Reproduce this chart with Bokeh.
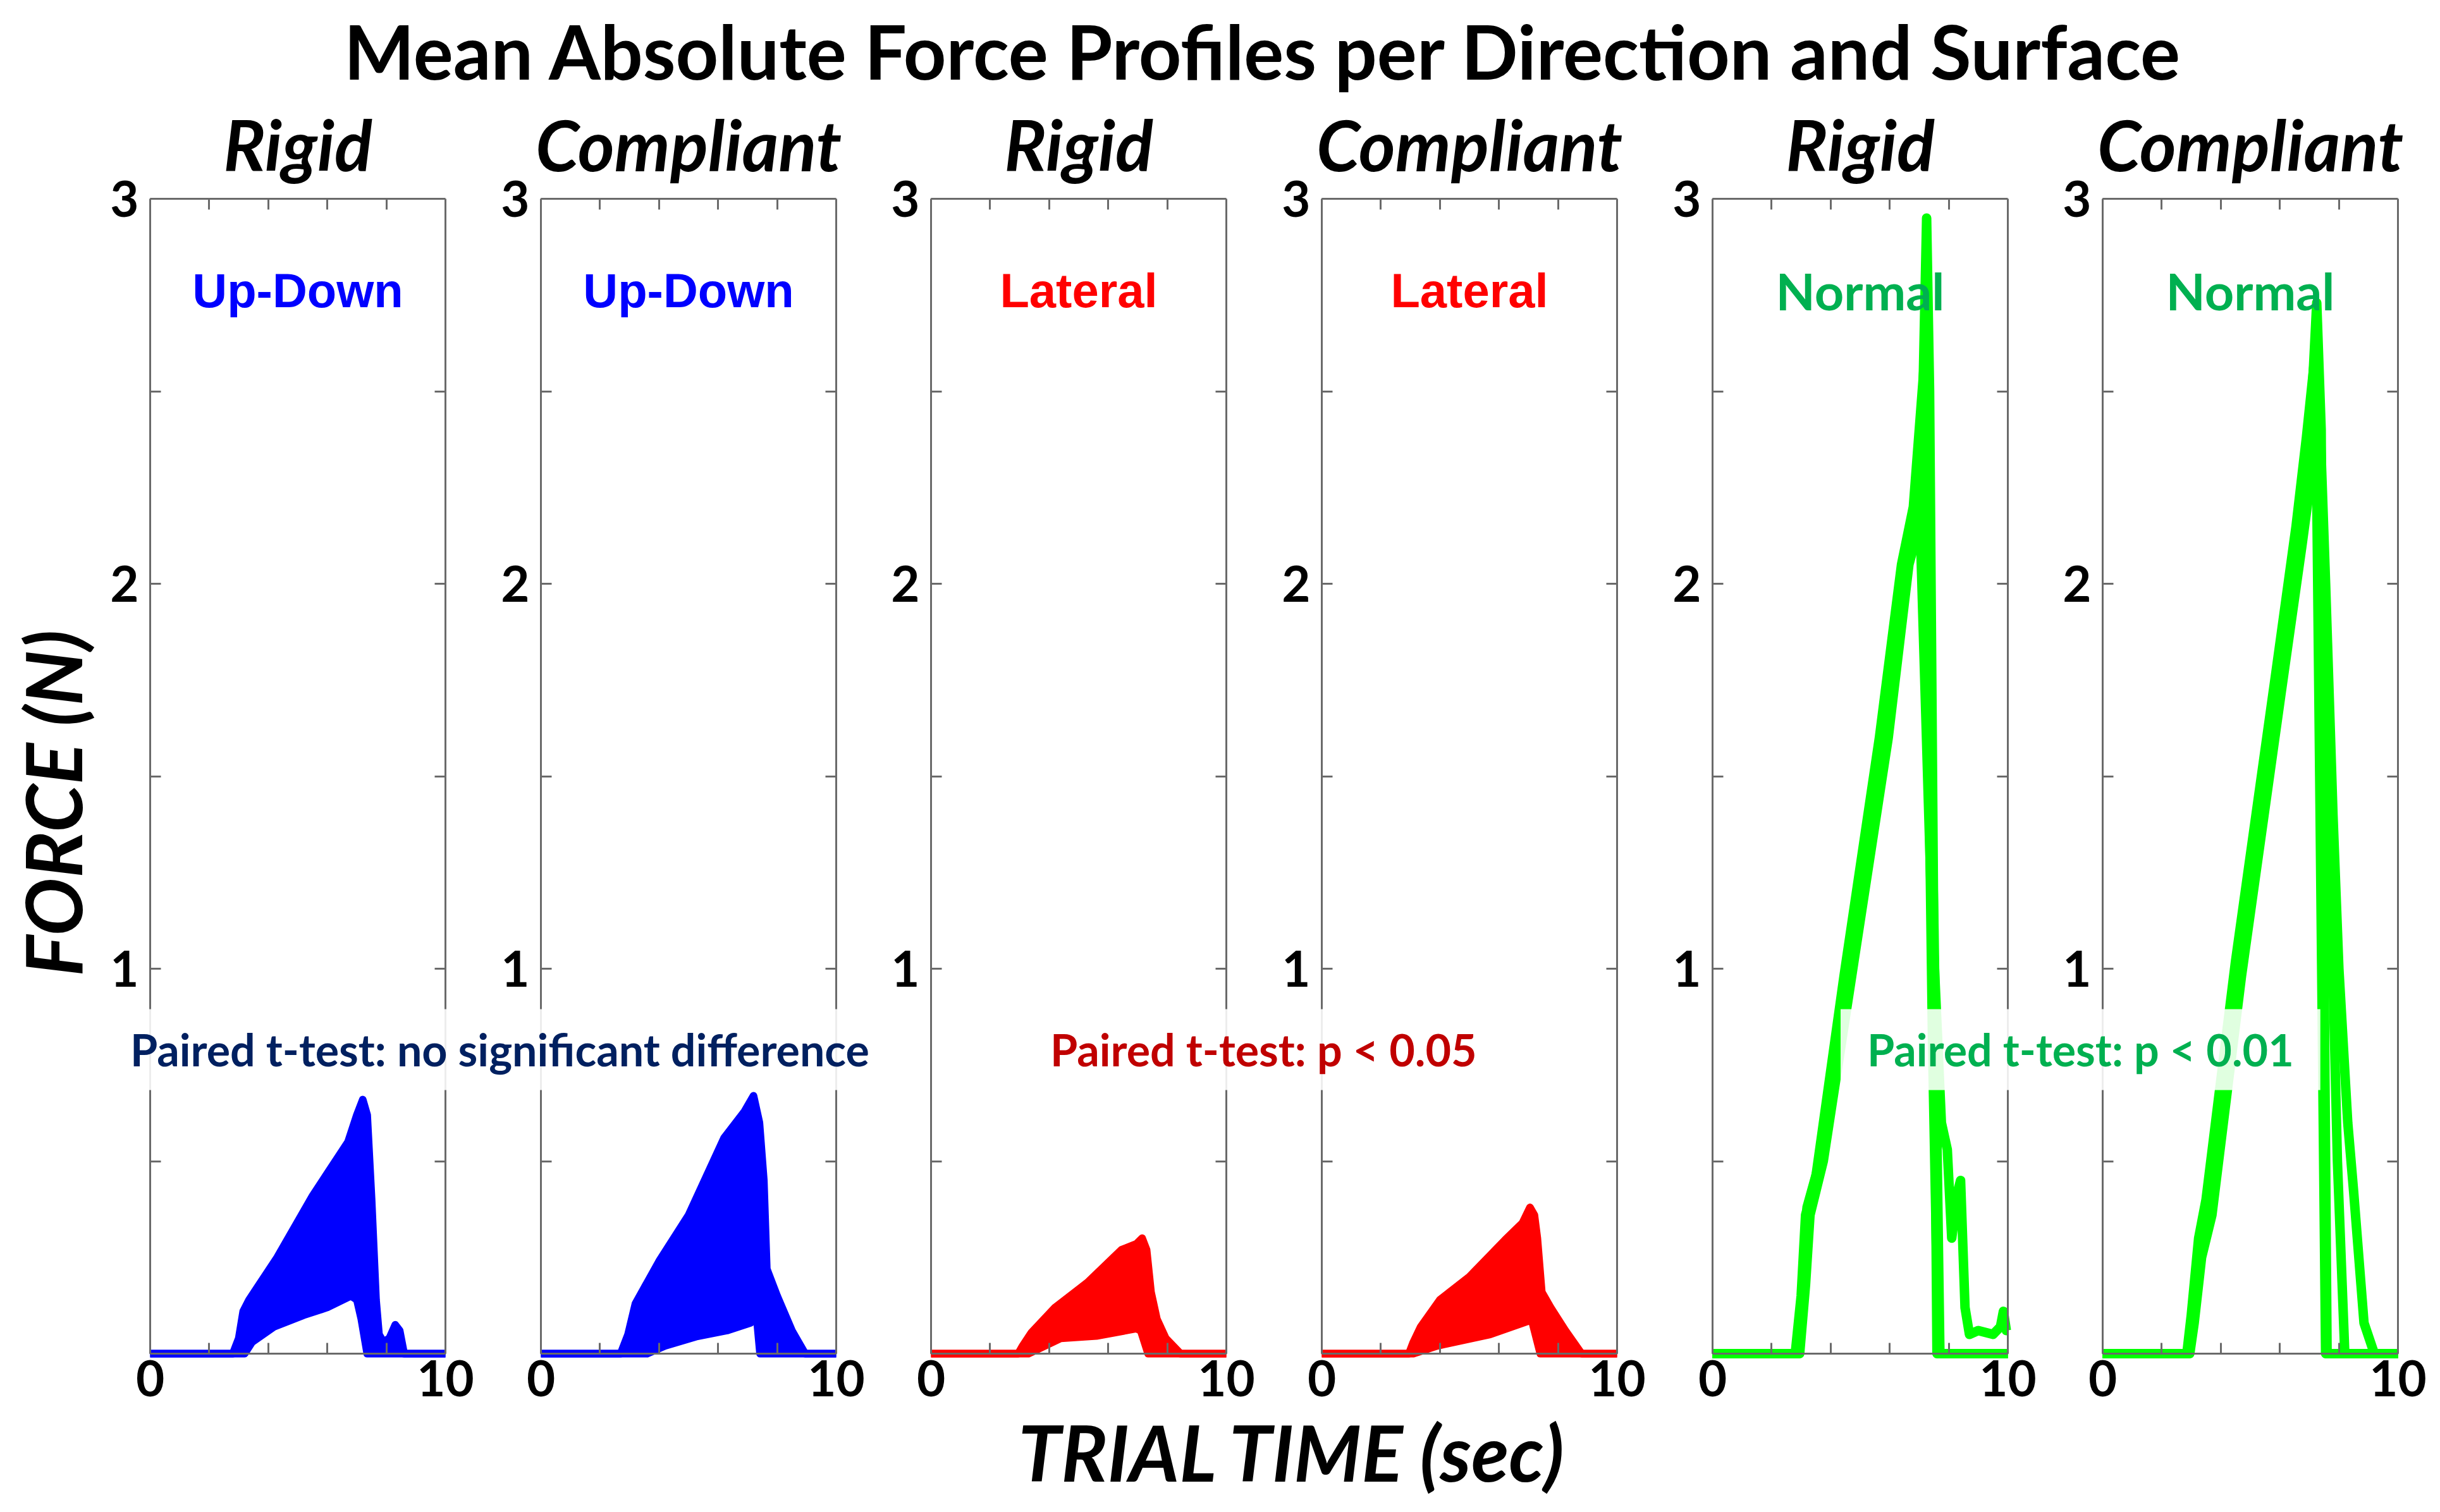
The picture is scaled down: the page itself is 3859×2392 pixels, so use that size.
import math
from bokeh.plotting import figure
from bokeh.models import Range1d, LinearAxis, FixedTicker, Label
from bokeh.embed import file_html
from bokeh.resources import INLINE

# ---------------- data ----------------
TITLE = "Mean Absolute Force Profiles per Direction and Surface"
X_LABEL = "TRIAL TIME (sec)"
Y_LABEL = "FORCE (N)"
SURFACES = ["Rigid", "Compliant", "Rigid", "Compliant", "Rigid", "Compliant"]
DIRECTIONS = ["Up-Down", "Up-Down", "Lateral", "Lateral", "Normal", "Normal"]
TEST_TEXTS = ["Paired t-test: no significant difference",
              "Paired t-test: p < 0.05",
              "Paired t-test: p < 0.01"]
X_MAJOR = [0, 10]
X_MINOR = [2, 4, 6, 8]
Y_MAJOR = [1, 2, 3]
Y_MINOR = [0.5, 1.5, 2.5]
Y_RIGHT = [0.5, 1, 1.5, 2, 2.5]

# Up-Down, rigid: outermost (upper) and innermost (lower) trials of the bundle
UD_R_UP_T = [0, 2.8, 3.0, 3.15, 3.35, 4.3, 5.5, 6.7, 7.0, 7.2, 7.35, 7.5, 7.65, 7.75, 7.9, 8.1, 8.3, 8.45, 8.6, 10]
UD_R_UP_F = [0.0, 0.0, 0.04, 0.11, 0.14, 0.25, 0.41, 0.55, 0.62, 0.66, 0.62, 0.40, 0.14, 0.05, 0.03, 0.04, 0.075, 0.06, 0.0, 0.0]
UD_R_LO_T = [0, 3.2, 3.45, 4.2, 5.2, 6.0, 6.8, 7.0, 7.15, 7.35, 10]
UD_R_LO_F = [0.0, 0.0, 0.03, 0.07, 0.10, 0.12, 0.15, 0.14, 0.09, 0.0, 0.0]
# Up-Down, compliant
UD_C_UP_T = [0, 2.7, 2.95, 3.2, 4.0, 5.0, 6.2, 6.9, 7.2, 7.4, 7.55, 7.65, 8.0, 8.5, 8.95, 10]
UD_C_UP_F = [0.0, 0.0, 0.05, 0.13, 0.24, 0.36, 0.56, 0.63, 0.67, 0.60, 0.45, 0.22, 0.15, 0.06, 0.0, 0.0]
UD_C_LO_T = [0, 3.6, 4.2, 5.3, 6.3, 7.1, 7.3, 7.42, 10]
UD_C_LO_F = [0.0, 0.0, 0.02, 0.045, 0.06, 0.08, 0.10, 0.0, 0.0]
# Lateral, rigid
LAT_R_UP_T = [0, 2.95, 3.1, 3.4, 4.2, 5.3, 6.45, 6.95, 7.15, 7.3, 7.45, 7.65, 7.95, 8.45, 10]
LAT_R_UP_F = [0.0, 0.0, 0.02, 0.055, 0.12, 0.185, 0.27, 0.285, 0.30, 0.27, 0.16, 0.09, 0.04, 0.0, 0.0]
LAT_R_LO_T = [0, 3.3, 4.4, 5.6, 6.95, 7.1, 7.35, 10]
LAT_R_LO_F = [0.0, 0.0, 0.04, 0.046, 0.065, 0.06, 0.0, 0.0]
# Lateral, compliant
LAT_C_UP_T = [0, 2.95, 3.1, 3.35, 4.0, 5.0, 6.2, 6.8, 7.05, 7.2, 7.3, 7.45, 7.75, 8.25, 8.8, 10]
LAT_C_UP_F = [0.0, 0.0, 0.03, 0.07, 0.14, 0.20, 0.295, 0.34, 0.38, 0.36, 0.30, 0.16, 0.12, 0.06, 0.0, 0.0]
LAT_C_LO_T = [0, 3.1, 3.9, 5.7, 7.0, 7.1, 7.4, 10]
LAT_C_LO_F = [0.0, 0.0, 0.02, 0.05, 0.085, 0.09, 0.0, 0.0]
# Normal, rigid: four visible trials
NR_A_T = [0, 2.85, 3.05, 3.2, 3.6, 4.6, 5.8, 6.5, 6.9, 7.1, 7.25, 7.35, 7.5, 7.6, 10]
NR_A_F = [0.0, 0.0, 0.15, 0.38, 0.49, 1.01, 1.64, 2.08, 2.2, 2.4, 2.95, 2.5, 1.0, 0.0, 0.0]
NR_B_T = [0, 2.9, 3.1, 3.25, 3.65, 4.65, 5.85, 6.55, 6.95, 7.05, 7.4, 7.75, 7.95, 8.1, 8.3, 8.4, 8.55, 8.7, 9.0, 9.5, 9.75, 9.85, 9.95, 10]
NR_B_F = [0.0, 0.0, 0.2, 0.38, 0.5, 1.0, 1.62, 2.1, 2.2, 2.1, 1.2, 0.6, 0.53, 0.3, 0.42, 0.45, 0.12, 0.05, 0.06, 0.05, 0.07, 0.11, 0.06, 0.06]
NR_C_T = [0, 2.8, 3.0, 3.15, 3.5, 4.45, 5.65, 6.4, 6.8, 7.15, 7.45, 7.65, 10]
NR_C_F = [0.0, 0.0, 0.15, 0.36, 0.46, 0.98, 1.6, 2.05, 2.2, 2.55, 0.8, 0.0, 0.0]
NR_D_T = [0, 2.95, 3.15, 3.3, 3.75, 4.75, 5.95, 6.65, 7.0, 7.2, 7.5, 7.7, 10]
NR_D_F = [0.0, 0.0, 0.18, 0.36, 0.5, 1.0, 1.6, 2.05, 2.15, 2.3, 1.1, 0.0, 0.0]
# Normal, compliant
NC_A_T = [0, 2.9, 3.05, 3.3, 3.6, 4.6, 5.95, 6.65, 7.0, 7.25, 7.4, 7.5, 7.6, 10]
NC_A_F = [0.0, 0.0, 0.1, 0.28, 0.38, 1.0, 1.74, 2.12, 2.35, 2.73, 2.4, 1.0, 0.0, 0.0]
NC_B_T = [0, 2.95, 3.1, 3.35, 3.7, 4.7, 6.05, 6.75, 7.1, 7.3, 7.55, 7.8, 8.0, 8.3, 8.5, 8.85, 9.2, 10]
NC_B_F = [0.0, 0.0, 0.08, 0.25, 0.36, 0.98, 1.72, 2.1, 2.3, 2.55, 2.0, 1.4, 1.0, 0.6, 0.42, 0.08, 0.0, 0.0]
NC_C_T = [0, 2.85, 3.0, 3.25, 3.5, 4.5, 5.85, 6.55, 6.9, 7.2, 7.35, 7.55, 10]
NC_C_F = [0.0, 0.0, 0.1, 0.3, 0.4, 1.02, 1.76, 2.15, 2.38, 2.6, 1.5, 0.0, 0.0]
NC_D_T = [0, 2.9, 3.1, 3.35, 3.65, 4.65, 6.0, 6.7, 7.05, 7.25, 7.45, 7.7, 7.95, 8.2, 10]
NC_D_F = [0.0, 0.0, 0.1, 0.27, 0.37, 0.99, 1.73, 2.11, 2.32, 2.62, 2.1, 1.3, 0.5, 0.0, 0.0]

BANDS = {
    0: ((UD_R_UP_T, UD_R_UP_F), (UD_R_LO_T, UD_R_LO_F)),
    1: ((UD_C_UP_T, UD_C_UP_F), (UD_C_LO_T, UD_C_LO_F)),
    2: ((LAT_R_UP_T, LAT_R_UP_F), (LAT_R_LO_T, LAT_R_LO_F)),
    3: ((LAT_C_UP_T, LAT_C_UP_F), (LAT_C_LO_T, LAT_C_LO_F)),
}
TRIALS = {
    4: [(NR_A_T, NR_A_F), (NR_B_T, NR_B_F), (NR_C_T, NR_C_F), (NR_D_T, NR_D_F)],
    5: [(NC_A_T, NC_A_F), (NC_B_T, NC_B_F), (NC_C_T, NC_C_F), (NC_D_T, NC_D_F)],
}

# ---------------- styling / layout ----------------
LINE_COLORS = ["#0000FF", "#0000FF", "#FF0000", "#FF0000", "#00FF00", "#00FF00"]
DIR_COLORS = ["#0000FF", "#0000FF", "#FF0000", "#FF0000", "#00B050", "#00B050"]
TEST_COLORS = ["#002060", "#C00000", "#00B050"]
AX_COLOR = "#6a6a6a"
FONT = "Lato"

CANVAS_W, CANVAS_H = 3843, 2376
PANEL_LEFT = [237, 855, 1472, 2090, 2708, 3325]   # px of each panel's left edge
PANEL_W = 467
PANEL_TOP, PANEL_BOTTOM = 314, 2141
Y_PER_PX = 3.0 / (PANEL_BOTTOM - PANEL_TOP)
X_PER_PX = 10.0 / PANEL_W

# the plotting frame covers the whole canvas; each panel gets its own x range
p = figure(width=CANVAS_W, height=CANVAS_H, output_backend="svg", toolbar_location=None,
           x_axis_type=None, y_axis_type=None,
           x_range=Range1d(0, 1),
           y_range=Range1d(-(CANVAS_H - PANEL_BOTTOM) * Y_PER_PX, 3 + PANEL_TOP * Y_PER_PX),
           min_border=0, min_border_left=0, min_border_right=0,
           min_border_top=0, min_border_bottom=0)
p.outline_line_color = None
p.background_fill_color = "white"
p.border_fill_color = "white"

ranges = {}
for i, left in enumerate(PANEL_LEFT):
    start = -left * X_PER_PX
    ranges[f"p{i}"] = Range1d(start, start + CANVAS_W * X_PER_PX)
p.extra_x_ranges = ranges


def style(ax):
    ax.axis_line_color = AX_COLOR
    ax.axis_line_width = 3
    ax.major_tick_line_color = AX_COLOR
    ax.minor_tick_line_color = AX_COLOR
    ax.major_tick_line_width = 3
    ax.minor_tick_line_width = 3
    ax.major_tick_in = 17
    ax.major_tick_out = 0
    ax.minor_tick_in = 17
    ax.minor_tick_out = 0
    ax.major_label_text_font = FONT
    ax.major_label_text_font_style = "bold"
    ax.major_label_text_font_size = "78px"
    ax.major_label_text_color = "black"
    return ax


for i in range(6):
    rn = f"p{i}"
    bottom = LinearAxis(x_range_name=rn, fixed_location=0, bounds=(0, 10),
                        ticker=FixedTicker(ticks=X_MAJOR, minor_ticks=X_MINOR))
    style(bottom)
    bottom.major_label_standoff = 10
    p.add_layout(bottom, "below")
    top = LinearAxis(x_range_name=rn, fixed_location=3, bounds=(0, 10),
                     ticker=FixedTicker(ticks=[], minor_ticks=X_MINOR))
    style(top)
    p.add_layout(top, "above")
    left = LinearAxis(x_range_name=rn, fixed_location=0, bounds=(0, 3),
                      ticker=FixedTicker(ticks=Y_MAJOR, minor_ticks=Y_MINOR))
    style(left)
    left.major_label_standoff = 18
    p.add_layout(left, "left")
    right = LinearAxis(x_range_name=rn, fixed_location=10, bounds=(0, 3),
                       ticker=FixedTicker(ticks=[], minor_ticks=Y_RIGHT))
    style(right)
    p.add_layout(right, "right")

# data
for i, ((ut, uf), (lt, lf)) in BANDS.items():
    rn = f"p{i}"
    c = LINE_COLORS[i]
    p.patch(x=ut + lt[::-1], y=uf + lf[::-1], x_range_name=rn,
            fill_color=c, line_color=c, line_width=4)
    p.line(x=ut, y=uf, x_range_name=rn, line_color=c, line_width=12, line_join="round")
    p.line(x=lt, y=lf, x_range_name=rn, line_color=c, line_width=12, line_join="round")

for i, trials in TRIALS.items():
    rn = f"p{i}"
    for t, f in trials:
        p.line(x=t, y=f, x_range_name=rn, line_color=LINE_COLORS[i], line_width=15,
               line_join="round")

# texts (font sizes avoid multiples of 100px: Bokeh's SVG font parser mistakes them for weights)
p.add_layout(Label(x=11.28, y=3.384, x_range_name="p2", text=TITLE, text_align="center",
                   text_baseline="alphabetic", text_font=FONT, text_font_style="bold",
                   text_font_size="118px", text_color="black"))
for i in range(6):
    rn = f"p{i}"
    p.add_layout(Label(x=5, y=3.142, x_range_name=rn, text=SURFACES[i], text_align="center",
                       text_baseline="alphabetic", text_font=FONT,
                       text_font_style="bold italic", text_font_size="111px",
                       text_color="black"))
    dir_font = "Liberation Sans" if i < 4 else FONT
    dir_size = "76px" if i < 4 else "81px"
    p.add_layout(Label(x=5, y=2.762, x_range_name=rn, text=DIRECTIONS[i], text_align="center",
                       text_baseline="alphabetic", text_font=dir_font,
                       text_font_style="bold", text_font_size=dir_size,
                       text_color=DIR_COLORS[i]))

TEST_POS = [("p0", 11.84), ("p2", 11.26), ("p4", 12.46)]
for (rn, x), txt, col in zip(TEST_POS, TEST_TEXTS, TEST_COLORS):
    p.add_layout(Label(x=x, y=0.79, x_range_name=rn, text=txt, text_align="center",
                       text_baseline="middle", text_font=FONT, text_font_style="bold",
                       text_font_size="70px", text_color=col,
                       background_fill_color="white", background_fill_alpha=0.88,
                       padding=dict(left=42, right=42, top=22, bottom=22)))

p.add_layout(Label(x=-3.298, y=1.43, x_range_name="p0", text=Y_LABEL, angle=math.pi / 2,
                   text_align="center", text_baseline="alphabetic", text_font=FONT,
                   text_font_style="bold italic", text_font_size="122px",
                   text_color="black"))
p.add_layout(Label(x=12.27, y=-0.256, x_range_name="p2", text=X_LABEL,
                   text_align="center", text_baseline="alphabetic", text_font=FONT,
                   text_font_style="bold italic", text_font_size="122px",
                   text_color="black"))

open("out.html", "w").write(file_html(p, INLINE))
